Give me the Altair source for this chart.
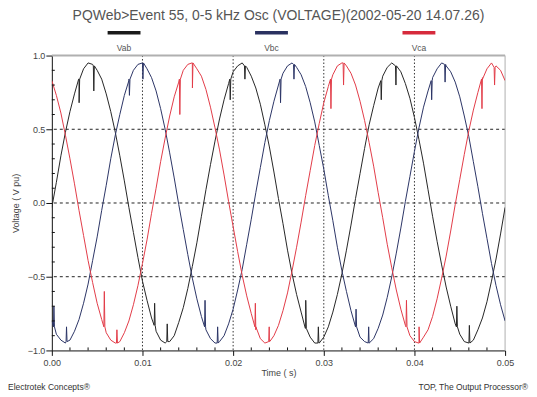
import altair as alt
import pandas as pd

series_names = ["Vab", "Vbc", "Vca"]
series_colors = ["#262626", "#2c3566", "#e23c48"]
legend_colors = ["#1a1a1a", "#2a3160", "#d62a3c"]

title_text = "PQWeb>Event 55, 0-5 kHz Osc (VOLTAGE)(2002-05-20 14.07.26)"
footer_left = "Electrotek Concepts\u00ae"
footer_right = "TOP, The Output Processor\u00ae"

x_ticks = [0.0, 0.01, 0.02, 0.03, 0.04, 0.05]
y_ticks = [-1.0, -0.5, 0.0, 0.5, 1.0]
x_grid = [0.01, 0.02, 0.03, 0.04]
y_grid = [-0.5, 0.0, 0.5]
x_minor = [0.002, 0.004, 0.006, 0.008, 0.012, 0.014, 0.016, 0.018,
           0.022, 0.024, 0.026, 0.028, 0.032, 0.034, 0.036, 0.038,
           0.042, 0.044, 0.046, 0.048]
y_minor = [-0.9, -0.8, -0.7, -0.6, -0.4, -0.3, -0.2, -0.1,
           0.1, 0.2, 0.3, 0.4, 0.6, 0.7, 0.8, 0.9]

time_s = [
    0.0, 0.0005, 0.001, 0.0015, 0.002, 0.0025, 0.003, 0.0035, 0.004, 0.0045,
    0.005, 0.0055, 0.006, 0.0065, 0.007, 0.0075, 0.008, 0.0085, 0.009, 0.0095,
    0.01, 0.0105, 0.011, 0.0115, 0.012, 0.0125, 0.013, 0.0135, 0.014, 0.0145,
    0.015, 0.0155, 0.016, 0.0165, 0.017, 0.0175, 0.018, 0.0185, 0.019, 0.0195,
    0.02, 0.0205, 0.021, 0.0215, 0.022, 0.0225, 0.023, 0.0235, 0.024, 0.0245,
    0.025, 0.0255, 0.026, 0.0265, 0.027, 0.0275, 0.028, 0.0285, 0.029, 0.0295,
    0.03, 0.0305, 0.031, 0.0315, 0.032, 0.0325, 0.033, 0.0335, 0.034, 0.0345,
    0.035, 0.0355, 0.036, 0.0365, 0.037, 0.0375, 0.038, 0.0385, 0.039, 0.0395,
    0.04, 0.0405, 0.041, 0.0415, 0.042, 0.0425, 0.043, 0.0435, 0.044, 0.0445,
    0.045, 0.0455, 0.046, 0.0465, 0.047, 0.0475, 0.048, 0.0485, 0.049, 0.0495,
    0.05,
]

vab = [
    -0.03, 0.14, 0.32, 0.48, 0.62, 0.74, 0.84, 0.91, 0.95, 0.94,
    0.90, 0.84, 0.74, 0.62, 0.48, 0.32, 0.15, -0.03, -0.20, -0.37,
    -0.53, -0.66, -0.78, -0.87, -0.93, -0.95, -0.94, -0.90, -0.81, -0.71,
    -0.58, -0.43, -0.27, -0.09, 0.09, 0.26, 0.42, 0.57, 0.70, 0.81,
    0.89, 0.93, 0.95, 0.92, 0.86, 0.78, 0.67, 0.53, 0.38, 0.21,
    0.03, -0.14, -0.32, -0.48, -0.62, -0.74, -0.85, -0.91, -0.95, -0.95,
    -0.91, -0.84, -0.74, -0.62, -0.48, -0.32, -0.15, 0.03, 0.20, 0.37,
    0.53, 0.66, 0.78, 0.86, 0.92, 0.95, 0.93, 0.89, 0.81, 0.71,
    0.58, 0.43, 0.27, 0.09, -0.09, -0.26, -0.42, -0.57, -0.70, -0.82,
    -0.89, -0.94, -0.95, -0.93, -0.86, -0.78, -0.67, -0.53, -0.38, -0.21,
    -0.03,
]

vbc = [
    -0.80, -0.89, -0.93, -0.95, -0.93, -0.87, -0.79, -0.68, -0.55, -0.39,
    -0.23, -0.05, 0.12, 0.30, 0.46, 0.60, 0.73, 0.83, 0.90, 0.94,
    0.95, 0.91, 0.85, 0.76, 0.64, 0.50, 0.34, 0.17, -0.01, -0.18,
    -0.35, -0.51, -0.65, -0.77, -0.86, -0.92, -0.95, -0.94, -0.90, -0.82,
    -0.72, -0.59, -0.45, -0.28, -0.11, 0.07, 0.24, 0.41, 0.56, 0.69,
    0.80, 0.88, 0.93, 0.95, 0.92, 0.87, 0.79, 0.68, 0.55, 0.39,
    0.23, 0.05, -0.12, -0.30, -0.46, -0.60, -0.73, -0.84, -0.91, -0.94,
    -0.95, -0.92, -0.85, -0.76, -0.64, -0.50, -0.34, -0.17, 0.01, 0.18,
    0.35, 0.51, 0.65, 0.76, 0.85, 0.91, 0.95, 0.93, 0.89, 0.82,
    0.72, 0.59, 0.45, 0.28, 0.11, -0.07, -0.24, -0.41, -0.56, -0.69,
    -0.80,
]

vca = [
    0.83, 0.73, 0.61, 0.46, 0.30, 0.13, -0.05, -0.22, -0.39, -0.54,
    -0.68, -0.79, -0.88, -0.93, -0.95, -0.94, -0.88, -0.80, -0.69, -0.56,
    -0.41, -0.25, -0.07, 0.10, 0.28, 0.44, 0.59, 0.72, 0.82, 0.90,
    0.94, 0.95, 0.91, 0.86, 0.77, 0.65, 0.51, 0.36, 0.19, 0.01,
    -0.16, -0.33, -0.49, -0.63, -0.75, -0.86, -0.92, -0.95, -0.94, -0.90,
    -0.83, -0.73, -0.61, -0.46, -0.30, -0.13, 0.05, 0.22, 0.39, 0.54,
    0.68, 0.79, 0.87, 0.93, 0.95, 0.93, 0.88, 0.80, 0.69, 0.56,
    0.41, 0.25, 0.07, -0.10, -0.28, -0.44, -0.59, -0.72, -0.83, -0.90,
    -0.94, -0.95, -0.91, -0.86, -0.77, -0.65, -0.51, -0.36, -0.19, -0.01,
    0.16, 0.33, 0.49, 0.63, 0.75, 0.85, 0.91, 0.95, 0.93, 0.90,
    0.83,
]

# commutation notches: (time, level just outside, tip of the notch)
vab_notches = [
    (0.00301, 0.84, 0.68), (0.00463, 0.93, 0.76), (0.01134, -0.83, -0.68),
    (0.01273, -0.94, -0.82), (0.01968, 0.84, 0.70), (0.02130, 0.93, 0.84),
    (0.02801, -0.85, -0.66), (0.02940, -0.95, -0.84), (0.03634, 0.83, 0.70),
    (0.03796, 0.93, 0.80), (0.04468, -0.84, -0.70), (0.04606, -0.95, -0.83),
]
vbc_notches = [
    (0.00023, -0.84, -0.70), (0.00162, -0.94, -0.84), (0.00856, 0.84, 0.73),
    (0.01005, 0.95, 0.84), (0.01690, -0.84, -0.66), (0.01829, -0.95, -0.84),
    (0.02523, 0.84, 0.68), (0.02671, 0.94, 0.84), (0.03356, -0.84, -0.72),
    (0.03495, -0.95, -0.84), (0.04190, 0.83, 0.70), (0.04338, 0.94, 0.82),
]
vca_notches = [
    (0.00579, -0.84, -0.60), (0.00718, -0.95, -0.86), (0.01412, 0.84, 0.60),
    (0.01551, 0.95, 0.78), (0.02245, -0.84, -0.68), (0.02398, -0.94, -0.84),
    (0.03079, 0.84, 0.64), (0.03218, 0.95, 0.80), (0.03912, -0.84, -0.66),
    (0.04051, -0.95, -0.84), (0.04745, 0.84, 0.64), (0.04884, 0.92, 0.80),
]

rows = []
for name, vals, notches in zip(series_names, [vab, vbc, vca],
                               [vab_notches, vbc_notches, vca_notches]):
    for t, v in zip(time_s, vals):
        rows.append({"t": t, "v": v, "series": name})
    for t, level, tip in notches:
        rows.append({"t": t - 0.00005, "v": level, "series": name})
        rows.append({"t": t, "v": tip, "series": name})
        rows.append({"t": t + 0.00006, "v": level, "series": name})
df = pd.DataFrame(rows).sort_values(["series", "t"]).reset_index(drop=True)

FONT = "Liberation Sans"
W, H = 455, 296

x_scale = alt.Scale(domain=[0, 0.05], nice=False, zero=False)
y_scale = alt.Scale(domain=[-1, 1], nice=False, zero=False)

x_axis = alt.Axis(
    values=x_ticks, format=".2f", title="Time ( s)", grid=False, labelFlush=False,
    domainColor="#111111", domainWidth=1,
    tickColor="#111111", tickSize=5, tickWidth=1,
    labelFont=FONT, labelFontSize=9, labelColor="#444444", labelPadding=3,
    titleFont=FONT, titleFontSize=9, titleColor="#444444",
    titleFontWeight="normal", titlePadding=1,
)
y_axis = alt.Axis(
    values=y_ticks, format=".1f", title="Voltage ( V pu)", grid=False, labelFlush=False,
    domainColor="#111111", domainWidth=1,
    tickColor="#111111", tickSize=6, tickWidth=1,
    labelFont=FONT, labelFontSize=9, labelColor="#444444", labelPadding=1,
    titleFont=FONT, titleFontSize=9, titleColor="#444444",
    titleFontWeight="normal", titlePadding=7,
)

# grid and frame lines (drawn first, behind the waveforms)
hgrid = alt.Chart(pd.DataFrame({"v": y_grid})).mark_rule(
    color="#222222", strokeWidth=1, strokeDash=[3, 3]).encode(
    y=alt.Y("v:Q", scale=y_scale, axis=y_axis))
vgrid = alt.Chart(pd.DataFrame({"t": x_grid})).mark_rule(
    color="#333333", strokeWidth=1, strokeDash=[1.5, 2]).encode(
    x=alt.X("t:Q", scale=x_scale, axis=x_axis))
top_frame = alt.Chart(pd.DataFrame({"v": [1.0]})).mark_rule(
    color="#b0b0b0", strokeWidth=2).encode(y=alt.Y("v:Q", scale=y_scale))
right_frame = alt.Chart(pd.DataFrame({"t": [0.05]})).mark_rule(
    color="#b0b0b0", strokeWidth=1).encode(x=alt.X("t:Q", scale=x_scale))

lines = alt.Chart(df).mark_line(strokeWidth=1, clip=True).encode(
    x=alt.X("t:Q", scale=x_scale),
    y=alt.Y("v:Q", scale=y_scale),
    color=alt.Color("series:N", scale=alt.Scale(domain=series_names, range=series_colors),
                    legend=None),
)

minor_y = alt.Chart(pd.DataFrame({"v": y_minor})).mark_rule(color="#111111", strokeWidth=1).encode(
    y=alt.Y("v:Q", scale=y_scale),
    x=alt.value(0), x2=alt.value(3),
)
minor_x = alt.Chart(pd.DataFrame({"t": x_minor})).mark_rule(color="#111111", strokeWidth=1).encode(
    x=alt.X("t:Q", scale=x_scale),
    y=alt.value(H), y2=alt.value(H - 3),
)

one = alt.InlineData(values=[{"k": 0}])
layers = [hgrid, vgrid, top_frame, right_frame, lines, minor_y, minor_x]

layers.append(alt.Chart(one).mark_text(
    text=title_text, font=FONT, fontSize=14, color="#555555",
    align="center", baseline="middle").encode(x=alt.value(W / 2), y=alt.value(-40)))

for i, (name, col) in enumerate(zip(series_names, legend_colors)):
    x0 = 56 + 148 * i
    layers.append(alt.Chart(one).mark_rule(color=col, strokeWidth=3.5).encode(
        x=alt.value(x0), x2=alt.value(x0 + 33), y=alt.value(-23)))
    layers.append(alt.Chart(one).mark_text(
        text=name, font=FONT, fontSize=8.5, color="#555555",
        align="center", baseline="middle").encode(x=alt.value(x0 + 16.5), y=alt.value(-8)))

layers.append(alt.Chart(one).mark_text(
    text=footer_left, font=FONT, fontSize=8.5, color="#333333",
    align="left", baseline="middle").encode(x=alt.value(-44), y=alt.value(H + 37)))
layers.append(alt.Chart(one).mark_text(
    text=footer_right, font=FONT, fontSize=8.5, color="#333333",
    align="right", baseline="middle").encode(x=alt.value(W + 23), y=alt.value(H + 37)))

chart = alt.layer(*layers).properties(
    width=W, height=H,
    autosize=alt.AutoSizeParams(type="none"),
    padding={"left": 44, "top": 47, "right": 24, "bottom": 42},
    background="white",
).configure_view(stroke=None)

chart.save("out.html", embed_options={"renderer": "svg", "actions": False})
